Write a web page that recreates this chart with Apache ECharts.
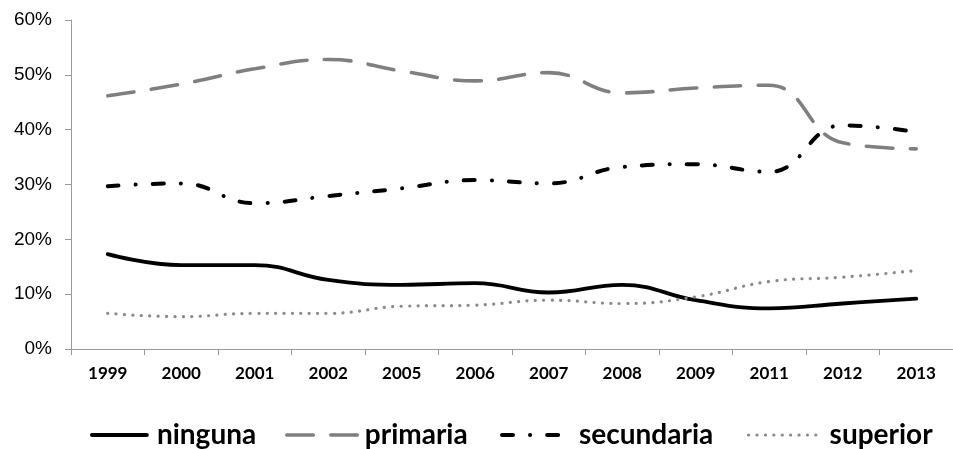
<!DOCTYPE html>
<html><head><meta charset="utf-8">
<script src="https://cdn.jsdelivr.net/npm/echarts@6/dist/echarts.min.js"></script>
<style>html,body{margin:0;padding:0;background:#fff}#c{width:953px;height:449px}</style>
</head><body><div id="c"></div>
<script>
const categories = ['1999','2000','2001','2002','2005','2006','2007','2008','2009','2011','2012','2013'];
const ninguna    = [17.3, 15.3, 15.3, 12.6, 11.7, 12.0, 10.3, 11.7, 8.9, 7.4, 8.3, 9.2];
const primaria   = [46.2, 48.3, 51.1, 52.8, 50.7, 48.9, 50.4, 46.7, 47.6, 48.1, 37.6, 36.5];
const secundaria = [29.7, 30.2, 26.6, 27.9, 29.3, 30.8, 30.2, 33.2, 33.7, 32.3, 40.8, 39.6];
const superior   = [6.5, 5.9, 6.5, 6.5, 7.8, 8.0, 8.9, 8.3, 9.5, 12.3, 13.1, 14.3];
const yTicks = [0, 10, 20, 30, 40, 50, 60];

const chart = echarts.init(document.getElementById('c'), null, {renderer: 'canvas'});
const axisColor = '#9a9a9a';
const styles = {
  ninguna:    {color: '#000', width: 3.8, type: 'solid', cap: 'round'},
  primaria:   {color: '#7f7f7f', width: 3.6, type: [26.5, 17.5], cap: 'round'},
  secundaria: {color: '#000', width: 4, type: [11, 17, 0.1, 17], cap: 'round'},
  superior:   {color: '#8a8a8a', width: 3.2, type: [0.1, 8.3], cap: 'round'}
};
const legendFont = {fontFamily: 'Lato', fontWeight: 'bold', fontSize: 28, color: '#000'};
function mkLegend(name, left, w, pad) {
  return {data: [name], left: left, top: 421, itemWidth: w, itemHeight: 14, padding: 0,
    selectedMode: false, itemStyle: {opacity: 0, borderWidth: 0},
    lineStyle: Object.assign({}, styles[name]),
    textStyle: Object.assign({padding: [0, 0, 0, pad]}, legendFont)};
}
function mkSeries(name, data) {
  return {name: name, type: 'line', data: data, smooth: 0.45, symbol: 'none',
    lineStyle: Object.assign({}, styles[name]), itemStyle: {color: styles[name].color}};
}
chart.setOption({
  animation: false,
  grid: {left: 71, top: 20, width: 894, height: 329, containLabel: false},
  xAxis: {type: 'category', data: categories, boundaryGap: true,
    axisLine: {lineStyle: {color: axisColor, width: 1}},
    axisTick: {show: true, length: 6, lineStyle: {color: axisColor}},
    axisLabel: {margin: 16, fontFamily: 'Lato', fontWeight: 'bold', fontSize: 17, color: '#000'}},
  yAxis: {type: 'value', min: yTicks[0], max: yTicks[yTicks.length-1], interval: 10,
    splitLine: {show: false},
    axisLine: {show: true, lineStyle: {color: axisColor, width: 1}},
    axisTick: {show: true, length: 6, lineStyle: {color: axisColor}},
    axisLabel: {margin: 19, formatter: '{value}%', fontFamily: 'Liberation Sans', fontSize: 19, color: '#000'}},
  legend: [
    mkLegend('ninguna', 90, 55, 5),
    mkLegend('primaria', 285, 73, 0),
    mkLegend('secundaria', 500, 58, 14),
    mkLegend('superior', 747, 68, 8)
  ],
  series: [
    mkSeries('ninguna', ninguna),
    mkSeries('primaria', primaria),
    mkSeries('secundaria', secundaria),
    mkSeries('superior', superior)
  ]
});
</script></body></html>
